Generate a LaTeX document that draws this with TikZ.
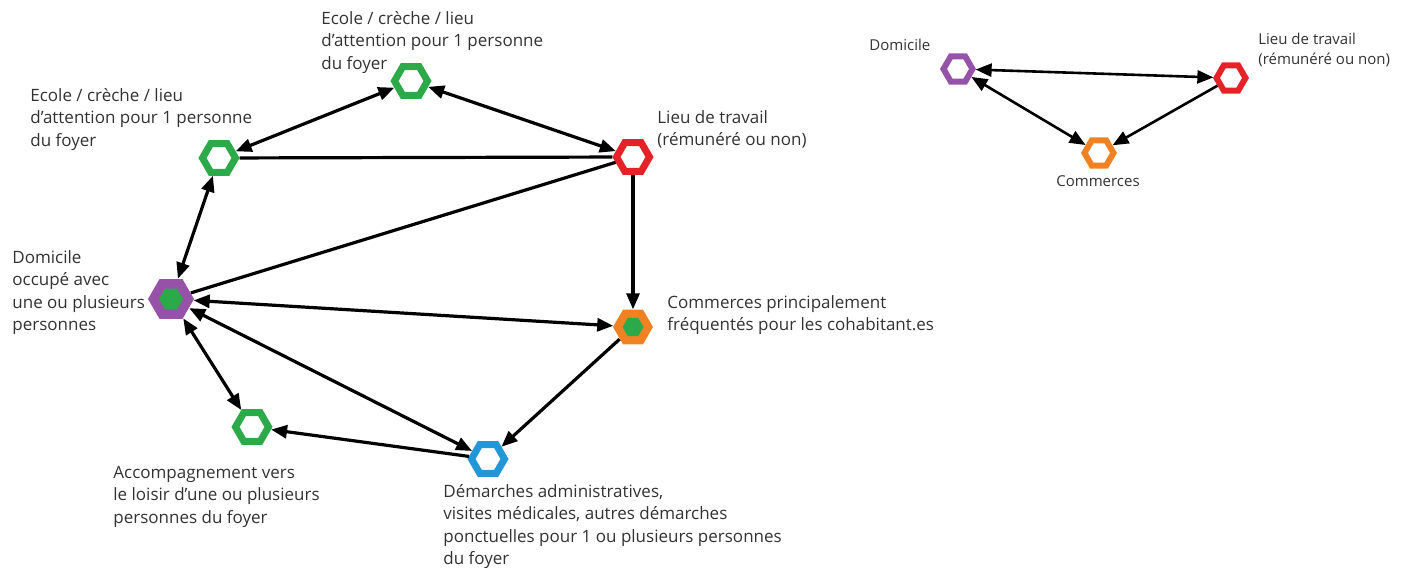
\documentclass[tikz,border=0pt]{standalone}
\usepackage{fontspec}
\setmainfont{Open Sans}
\usetikzlibrary{shapes.geometric,arrows.meta}

\definecolor{hexgreen}{RGB}{44,170,74}
\definecolor{hexpurple}{RGB}{150,82,168}
\definecolor{hexred}{RGB}{228,35,40}
\definecolor{hexorange}{RGB}{240,130,35}
\definecolor{hexblue}{RGB}{35,150,215}
\definecolor{txtgray}{RGB}{50,50,50}

\tikzstyle{hex} = [regular polygon, regular polygon sides=6, draw, fill=white, line width=3.5pt, minimum size=16.5pt, inner sep=0pt]
\tikzstyle{hexs} = [hex, line width=3pt, minimum size=14.5pt]
\tikzstyle{hexfill} = [regular polygon, regular polygon sides=6, draw=none, inner sep=0pt]
\tikzstyle{lbl} = [anchor=north west, align=left, inner sep=0pt, text=txtgray, font=\fontsize{8.5}{11.2}\selectfont]
\tikzstyle{lbls} = [lbl, font=\fontsize{7.5}{10}\selectfont]
\tikzstyle{link} = [line width=1.6pt]

\begin{document}
\begin{tikzpicture}[x=0.5pt,y=-0.5pt,>={Triangle[length=8pt,width=6.5pt]}]
\useasboundingbox (0,0) rectangle (1405,571);

% main network
\node[hex, draw=hexgreen] (ecolea) at (411,81) {};
\node[hex, draw=hexgreen] (ecoleb) at (219,158) {};
\node[hex, draw=hexred] (travail) at (633,157) {};
\node[hexfill, fill=hexpurple, minimum size=23pt] (dom) at (171,299) {};
\node[hexfill, fill=hexgreen, minimum size=12pt] (domcore) at (dom) {};
\node[hexfill, fill=hexorange, minimum size=20pt] (commerces) at (633,327) {};
\node[hexfill, fill=hexgreen, minimum size=10.5pt] (commercescore) at (commerces) {};
\node[hex, draw=hexblue] (demarches) at (488,459) {};
\node[hex, draw=hexgreen] (loisir) at (252,427) {};

\node[lbl] (ecoleatxt) at (321,11) {Ecole / crèche / lieu\\d’attention pour 1 personne\\du foyer};
\node[lbl] (ecolebtxt) at (30,88) {Ecole / crèche / lieu\\d’attention pour 1 personne\\du foyer};
\node[lbl] (travailtxt) at (657,110) {Lieu de travail\\(rémunéré ou non)};
\node[lbl] (domtxt) at (12,250) {Domicile\\occupé avec\\une ou plusieurs\\personnes};
\node[lbl] (commercestxt) at (667,295) {Commerces principalement\\fréquentés pour les cohabitant.es};
\node[lbl] (loisirtxt) at (113,466) {Accompagnement vers\\le loisir d’une ou plusieurs\\personnes du foyer};
\node[lbl] (demarchestxt) at (443,484) {Démarches administratives,\\visites médicales, autres démarches\\ponctuelles pour 1 ou plusieurs personnes\\du foyer};

\draw[link, <->] (ecolea) -- (travail);
\draw[link, <->] (ecolea) -- (ecoleb);
\draw[link] (ecoleb) -- (travail);
\draw[link] (travail) -- (dom);
\draw[link, <->] (ecoleb) -- (dom);
\draw[link, ->] (travail) -- (commerces);
\draw[link, <->] (dom) -- (commerces);
\draw[link, <->] (dom) -- (demarches);
\draw[link, <->] (dom) -- (loisir);
\draw[link, ->] (commerces) -- (demarches);
\draw[link, ->] (demarches) -- (loisir);

% small network
\node[hexs, draw=hexpurple] (dom2) at (958,69) {};
\node[hexs, draw=hexred] (travail2) at (1231,78) {};
\node[hexs, draw=hexorange] (commerces2) at (1099,153) {};

\node[lbls] (dom2txt) at (869,39) {Domicile};
\node[lbls] (travail2txt) at (1258,33) {Lieu de travail\\(rémunéré ou non)};
\node[lbls, anchor=center] (commerces2txt) at (1098,181) {Commerces};

\draw[link, line width=1.3pt, <->] (dom2) -- (travail2);
\draw[link, line width=1.3pt, <->] (dom2) -- (commerces2);
\draw[link, line width=1.3pt, ->] (travail2) -- (commerces2);

\end{tikzpicture}
\end{document}
